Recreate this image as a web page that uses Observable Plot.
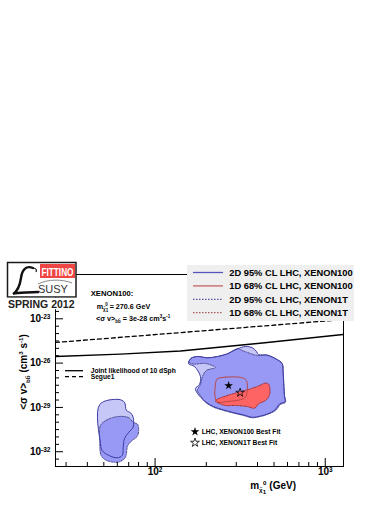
<!DOCTYPE html>
<html><head><meta charset="utf-8">
<script src="https://cdn.jsdelivr.net/npm/d3@7"></script>
<script src="https://cdn.jsdelivr.net/npm/@observablehq/plot@0.6"></script>
<style>
html,body{margin:0;padding:0;background:#fff;}
#wrap{position:relative;width:390px;height:505px;overflow:hidden;}
#wrap svg{position:absolute;left:0;top:0;}
</style></head><body><div id="wrap"></div>
<script>
// ---- tick values ----
const xMajorTicks = [100, 1000];
const xMinorTicks = [30, 40, 50, 60, 70, 80, 90, 200, 300, 400, 500, 600, 700, 800, 900];
const yMajorTicks = [1e-32, 1e-29, 1e-26, 1e-23];
const yMinorTicks = [3.16e-33, 3.16e-32, 1e-31, 3.16e-31, 1e-30, 3.16e-30, 3.16e-29, 1e-28, 3.16e-28,
  1e-27, 3.16e-27, 3.16e-26, 1e-25, 3.16e-25, 1e-24, 3.16e-24, 3.16e-23, 1e-22, 3.16e-22, 1e-21, 3.16e-21];

// ---- exclusion lines (mass GeV, <sigma v> cm^3/s) ----
const jointMass  = [26, 62.6, 141, 427.6, 1279];
const jointSigma = [2.8e-26, 4.1e-26, 6.6e-26, 2.3e-25, 8.7e-25];
const segueMass  = [26, 184.8, 1279];
const segueSigma = [2.5e-25, 1.49e-24, 8.9e-24];

// ---- 2D 95% CL LHC, XENON100 (two islands) ----
const x100Low = [[47.3,1.58e-29],[61.2,3.47e-29],[66.1,2.24e-29],[67.9,6.17e-30],[71.7,4.37e-30],[74.3,2.19e-30],
  [74.3,4.6e-31],[70.1,2.1e-31],[66.1,7.6e-32],[65.0,2.0e-32],[64.1,5.6e-33],[59.9,3.9e-33],[53.5,5.6e-33],[48.9,1.2e-32],[47.8,3.5e-32]];
const x100Main = [[157.8,1.2e-26],[163.7,2.2e-26],[177.5,2.8e-26],[203.2,2.3e-26],[232.6,2.8e-26],[266.3,4.3e-26],[304.9,9.3e-26],
  [339.8,1.33e-25],[373.5,1.09e-25],[394.3,6.1e-26],[405.2,3.8e-26],[455.7,3.55e-26],[521.5,1.76e-26],[558.3,9.4e-27],[565.8,2.4e-27],
  [570.5,4.0e-28],[575.9,6.4e-29],[579.8,2.5e-29],[538.2,1.7e-29],[506.3,6.7e-30],[455.7,3.55e-30],[416.3,2.6e-30],[372.0,2.15e-30],
  [332.0,3.1e-30],[290.0,4.4e-30],[253.3,6.7e-30],[221.3,1.12e-29],[197.8,2.45e-29],[177.5,8.8e-29],[172.7,1.9e-28],[182.3,3.6e-28],
  [184.8,1.24e-27],[170.4,5.9e-27],[157.8,8.7e-27]];

// ---- 2D 95% CL LHC, XENON1T ----
const x1tLow = [[47.8,6.0e-31],[52.3,1.45e-30],[61.2,2.45e-30],[70.1,2.0e-30],[74.3,1.0e-30],[79.1,6.9e-31],[79.1,1.26e-31],
  [73.4,5.8e-32],[69.1,2.6e-32],[67.0,4.3e-33],[62.6,2.2e-33],[57.2,1.95e-33],[51.1,2.8e-33],[48.2,5.6e-33],[47.3,5.8e-32]];
const x1tMain = [[157.8,1.2e-26],[163.7,2.2e-26],[177.5,2.8e-26],[203.2,2.3e-26],[232.6,2.8e-26],[266.3,4.3e-26],[304.9,9.3e-26],
  [330.7,6.6e-26],[398.1,3.3e-26],[455.7,3.3e-26],[521.5,1.68e-26],[558.3,9.0e-27],[565.8,2.4e-27],[570.5,4.0e-28],[575.9,6.4e-29],
  [583.8,2.24e-29],[545.6,1.58e-29],[509.7,6.2e-30],[455.7,3.3e-30],[416.3,2.45e-30],[372.0,2.0e-30],[332.0,2.8e-30],[290.0,4.1e-30],
  [253.3,6.2e-30],[221.3,1.03e-29],[197.8,2.24e-29],[184.8,6.4e-29],[177.5,1.4e-28],[184.8,3.6e-28],[189.9,1.24e-27],[200.5,3.2e-27],
  [226.4,5.0e-27],[197.8,9.4e-27],[168.1,8.7e-27]];

// ---- 1D 68% CL regions ----
const x100Red = [[231.7,8.7e-28],[259.3,1.12e-27],[325.0,1.02e-27],[344.4,6.6e-28],[347.7,1.4e-28],[339.8,4.9e-29],[317.6,3.3e-29],
  [265.3,2.5e-29],[236.8,2.24e-29],[226.4,3.8e-29],[226.4,4.0e-28],[229.5,7.4e-28]];
const x1tRed = [[229.5,3.3e-29],[265.3,6.4e-29],[347.7,1.55e-28],[398.1,2.6e-28],[445.4,4.4e-28],[465.6,3.6e-28],[472.0,8.4e-29],
  [451.5,3.3e-29],[406.8,1.77e-29],[383.7,8.9e-30],[347.7,1.15e-29],[296.8,1.35e-29],[259.3,1.35e-29],[236.8,1.94e-29],[226.4,2.6e-29]];

// ---- best fit points ----
const bestMass  = [270.6, 316];
const bestSigma = [3e-28, 1e-28];
const bestName  = ["LHC, XENON100 Best Fit", "LHC, XENON1T Best Fit"];

// ---- legend labels ----
const legendLabels = ["2D 95% CL LHC, XENON100", "1D 68% CL LHC, XENON100", "2D 95% CL LHC, XENON1T", "1D 68% CL LHC, XENON1T"];
const lineLabels = ["Joint likelihood of 10 dSph", "Segue1"];

const W = 390, H = 505, ML = 55, MR = 47, MT = 274, MB = 39;
const FW = W - ML - MR, FH = H - MT - MB;
const FONT = "Liberation Sans, Arial, Helvetica, sans-serif";
const LIGHT = "#c7c7f7", DARK = "#9898f5", NAVY = "#3c3ca6", NAVYDOT = "#4a4a8c";
const REDFILL = "#ff6464", REDLINE = "#b84848", REDDOT = "#9a3030";

const P = a => a.map(([m, s]) => ({m, s}));
const joint = jointMass.map((m, i) => ({m, s: jointSigma[i]}));
const segue = segueMass.map((m, i) => ({m, s: segueSigma[i]}));
const best = bestMass.map((m, i) => ({m, s: bestSigma[i], name: bestName[i]}));
const curve = "catmull-rom-closed";

const plot = Plot.plot({
  width: W, height: H, marginLeft: ML, marginRight: MR, marginTop: MT, marginBottom: MB,
  style: {fontFamily: FONT, fontWeight: "bold", fontSize: "10px", background: "transparent", color: "#000"},
  x: {type: "log", domain: [26, 1280], axis: null},
  y: {type: "log", domain: [1e-33, 1e-20], axis: null},
  marks: [
    Plot.line(P(x100Low), {x: "m", y: "s", curve, fill: LIGHT, stroke: "none"}),
    Plot.line(P(x100Main), {x: "m", y: "s", curve, fill: LIGHT, stroke: "none"}),
    Plot.line(P(x1tLow), {x: "m", y: "s", curve, fill: DARK, stroke: NAVYDOT, strokeWidth: 1, strokeDasharray: "1.3,1.3"}),
    Plot.line(P(x1tMain), {x: "m", y: "s", curve, fill: DARK, stroke: NAVYDOT, strokeWidth: 1, strokeDasharray: "1.3,1.3"}),
    Plot.line(P(x100Low), {x: "m", y: "s", curve, fill: "none", stroke: NAVY, strokeWidth: 1}),
    Plot.line(P(x100Main), {x: "m", y: "s", curve, fill: "none", stroke: NAVY, strokeWidth: 1}),
    Plot.line(P(x1tRed), {x: "m", y: "s", curve, fill: REDFILL, stroke: REDDOT, strokeWidth: 1, strokeDasharray: "1.3,1.3"}),
    Plot.line(P(x100Red), {x: "m", y: "s", curve, fill: "none", stroke: REDLINE, strokeWidth: 1}),
    Plot.line(joint, {x: "m", y: "s", stroke: "#000", strokeWidth: 1.3, clip: true}),
    Plot.line(segue, {x: "m", y: "s", stroke: "#000", strokeWidth: 1.3, strokeDasharray: "4,3", clip: true}),
    Plot.dot(best.slice(0, 1), {x: "m", y: "s", symbol: "star", r: 2.7, fill: "#000", stroke: "none"}),
    Plot.dot(best.slice(1), {x: "m", y: "s", symbol: "star", r: 2.7, fill: "none", stroke: "#000", strokeWidth: 0.8}),
    Plot.tickY(yMinorTicks, {y: d => d, insetRight: FW - 4, stroke: "#000"}),
    Plot.tickY(yMajorTicks, {y: d => d, insetRight: FW - 8, stroke: "#000"}),
    Plot.tickX(xMinorTicks, {x: d => d, insetTop: FH - 4, stroke: "#000"}),
    Plot.tickX(xMajorTicks, {x: d => d, insetTop: FH - 8, stroke: "#000"}),
    Plot.axisY({ticks: yMajorTicks, tickSize: 0, tickPadding: 5, fontSize: 10, label: null,
      tickFormat: d => "10^" + Math.round(Math.log10(d))}),
    Plot.axisX({ticks: xMajorTicks, tickSize: 0, tickPadding: 1, fontSize: 10, label: null,
      tickFormat: d => "10^" + Math.round(Math.log10(d))}),
    Plot.frame({stroke: "#000", strokeWidth: 1})
  ]
});

// superscripts in tick labels
const NS = "http://www.w3.org/2000/svg";
plot.querySelectorAll("text").forEach(t => {
  const m = /^10\^(-?\d+)$/.exec(t.textContent);
  if (m) {
    t.textContent = "10";
    const ts = document.createElementNS(NS, "tspan");
    ts.setAttribute("dy", "-0.45em");
    ts.setAttribute("font-size", "6.5");
    ts.textContent = m[1];
    t.appendChild(ts);
  }
});
document.getElementById("wrap").appendChild(plot);

// ---- overlay: logo, legends, annotations, axis titles ----
const ov = d3.select("#wrap").append("svg").attr("width", W).attr("height", H)
  .attr("font-family", FONT).attr("font-weight", "bold");

function rich(g, x, y, parts, size, anchor = "start", transform = null) {
  const t = g.append("text").attr("x", x).attr("y", y).attr("font-size", size).attr("text-anchor", anchor);
  if (transform) t.attr("transform", transform);
  let shift = 0;
  for (const p of parts) {
    const [s, k, dx] = Array.isArray(p) ? p : [p, null, 0];
    const target = k === "sup" ? -0.4 * size : k === "sub" ? 0.28 * size : k === "subsub" ? 0.5 * size : 0;
    const ts = t.append("tspan").attr("dy", target - shift).attr("font-size", k ? size * 0.62 : size).text(s);
    if (dx) ts.attr("dx", dx);
    shift = target;
  }
  return t;
}

// logo
const logo = ov.append("g");
logo.append("rect").attr("x", 7.5).attr("y", 262.5).attr("width", 68.5).attr("height", 34.5)
  .attr("fill", "#fff").attr("stroke", "#1a1a1a").attr("stroke-width", 1.5);
logo.append("rect").attr("x", 40).attr("y", 264).attr("width", 35).attr("height", 14).attr("fill", "#f04545");
logo.append("text").attr("x", 41.5).attr("y", 275.5).attr("font-size", 11.5).attr("fill", "#fff")
  .attr("textLength", 32).attr("lengthAdjust", "spacingAndGlyphs").text("FITTINO");
logo.append("path").attr("d", "M33,268 C26,265 22,270 21,278 C20,285 18,291 13,294 C18,292 26,293 38,292")
  .attr("fill", "none").attr("stroke", "#111").attr("stroke-width", 2.4).attr("stroke-linecap", "round");
logo.append("path").attr("d", "M33,268 C36,268 37,270 36,272").attr("fill", "none").attr("stroke", "#111").attr("stroke-width", 1.2);
logo.append("path").attr("d", "M38,284 C48,279 62,279 72,283").attr("fill", "none").attr("stroke", "#888").attr("stroke-width", 1);
logo.append("text").attr("x", 38).attr("y", 292.5).attr("font-size", 11).attr("font-weight", "normal")
  .attr("fill", "#333").text("SUSY");
logo.append("rect").attr("x", 6).attr("y", 297.8).attr("width", 72).attr("height", 11.5).attr("fill", "#fff");
logo.append("text").attr("x", 8).attr("y", 307.5).attr("font-size", 10.5).attr("fill", "#222").text("SPRING 2012");

// main legend
const lg = ov.append("g");
lg.append("rect").attr("x", 187).attr("y", 265).attr("width", 167).attr("height", 56).attr("fill", "#efefef");
const legendStyles = [
  {stroke: "#5555c0", dash: null}, {stroke: "#c86464", dash: null},
  {stroke: "#5555a8", dash: "1.5,1.5"}, {stroke: "#a85a5a", dash: "1.5,1.5"}];
legendLabels.forEach((lab, i) => {
  const cy = 272.5 + i * 13.4;
  const l = lg.append("line").attr("x1", 193).attr("x2", 223).attr("y1", cy).attr("y2", cy)
    .attr("stroke", legendStyles[i].stroke).attr("stroke-width", 1.3);
  if (legendStyles[i].dash) l.attr("stroke-dasharray", legendStyles[i].dash);
  lg.append("text").attr("x", 229.3).attr("y", cy + 3.3).attr("font-size", 9.3).text(lab);
});

// XENON100 annotation
rich(ov, 90.7, 296.2, ["XENON100:"], 7.7);
rich(ov, 96.7, 308.5, ["m", ["χ̃", "sub"], ["1", "subsub"], ["0", "sup", -3], [" = 270.6 GeV", null]], 7.2);
rich(ov, 96, 321, ["<σ v>", ["bb̄", "sub"], [" = 3e-28 cm", null], ["3", "sup"], ["s", null], ["-1", "sup"]], 7.2);

// line legend
lineLabels.forEach((lab, i) => {
  const cy = 370.7 + i * 6;
  const l = ov.append("line").attr("x1", 65).attr("x2", 83).attr("y1", cy).attr("y2", cy)
    .attr("stroke", "#000").attr("stroke-width", 1.3);
  if (i === 1) l.attr("stroke-dasharray", "4,3");
  ov.append("text").attr("x", 90.7).attr("y", cy + 2.4).attr("font-size", 6.7).text(lab);
});

// best fit legend
const starPath = d3.symbol(d3.symbolStar, 24)();
best.forEach((b, i) => {
  const cy = 431.7 + i * 11;
  ov.append("path").attr("d", starPath).attr("transform", `translate(195,${cy})`)
    .attr("fill", i === 0 ? "#000" : "none").attr("stroke", "#000").attr("stroke-width", i === 0 ? 0 : 0.8);
  ov.append("text").attr("x", 201.7).attr("y", cy + 2.4).attr("font-size", 6.7).text(b.name);
});

// axis titles
rich(ov, 0, 0, ["<σ v>", ["bb̄", "sub"], [" (cm", null], ["3", "sup"], [" s", null], ["-1", "sup"], [")", null]], 10,
  "middle", "translate(27,372) rotate(-90)");
rich(ov, 296, 489, ["m", ["χ̃", "sub"], ["1", "subsub"], ["0", "sup", -3], [" (GeV)", null]], 10, "end");
</script></body></html>
